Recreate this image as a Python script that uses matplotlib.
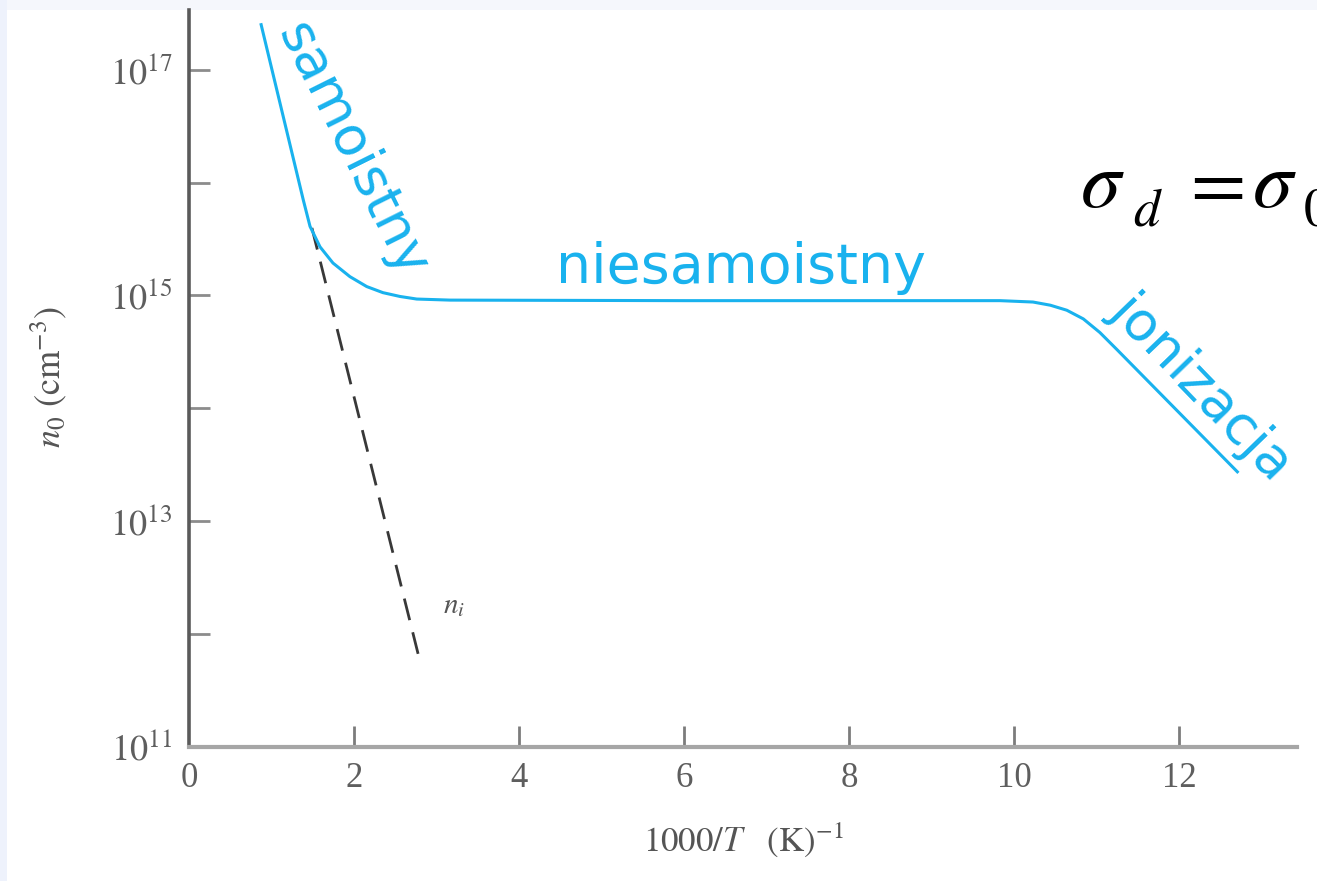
import math
import matplotlib
matplotlib.use("Agg")
import matplotlib.pyplot as plt
from matplotlib.patches import Rectangle
from matplotlib.transforms import Affine2D

plt.rcParams['mathtext.fontset'] = 'stix'
plt.rcParams['font.family'] = ['Liberation Serif', 'DejaVu Serif']

# ---- data ----
# electron concentration n0 (cm^-3) vs 1000/T (K^-1)
curve_x = [0.87, 1.386, 1.467, 1.588, 1.745, 1.95, 2.154, 2.35, 2.558, 2.76, 3.164,
           6.0, 9.83, 10.23, 10.44, 10.64, 10.84, 11.04, 11.25, 12.72]
curve_n = [2.6e17, 7.0e15, 4.1e15, 2.7e15, 1.94e15, 1.47e15, 1.2e15, 1.06e15, 9.8e14,
           9.3e14, 9.1e14, 9.0e14, 9.0e14, 8.75e14, 8.2e14, 7.4e14, 6.2e14, 4.7e14,
           3.3e14, 2.67e13]
# intrinsic concentration n_i (dashed)
ni_x = [1.49, 2.81]
ni_n = [3.97e15, 5.3e11]

yticks_major = [1e11, 1e13, 1e15, 1e17]
yticks_minor = [1e12, 1e14, 1e16]
xticks = [0, 2, 4, 6, 8, 10, 12]

region_labels = ["samoistny", "niesamoistny", "jonizacja"]

BLUE = '#19b2ee'

W, H = 1317, 881
fig = plt.figure(figsize=(W / 100, H / 100), dpi=100, facecolor='white')
px = Affine2D().scale(1 / W, -1 / H).translate(0, 1) + fig.transFigure

# light frame bands
fig.patches.append(Rectangle((0, 1 - 10 / H), 1, 10 / H, transform=fig.transFigure,
                             facecolor='#f5f7fc', edgecolor='none', zorder=-10))
fig.patches.append(Rectangle((0, 0), 7 / W, 1, transform=fig.transFigure,
                             facecolor='#eef2fc', edgecolor='none', zorder=-10))

left, right = 189 / W, 1297 / W
bottom, top = 1 - 746.5 / H, 1 - 10 / H
ax = fig.add_axes([left, bottom, right - left, top - bottom])
ax.set_facecolor('none')

ax.set_yscale('log')
ax.set_xlim(0, 13.43)
ax.set_ylim(1e11, 10 ** 17.532)

ax.plot(curve_x, curve_n, color=BLUE, lw=2.2, solid_capstyle='butt',
        solid_joinstyle='round', zorder=3)
ax.plot(ni_x, ni_n, color='#383838', lw=2.0, dashes=(8, 4.5), zorder=2)

for s in ['top', 'right']:
    ax.spines[s].set_visible(False)
ax.spines['left'].set_color('#5a5a5a')
ax.spines['left'].set_linewidth(2.6)
ax.spines['bottom'].set_color('#a6a6a6')
ax.spines['bottom'].set_linewidth(3.0)

ax.set_yticks(yticks_major)
ax.set_yticks(yticks_minor, minor=True)
ax.set_yticklabels([r'$10^{%d}$' % round(math.log10(v)) for v in yticks_major])
ax.set_yticklabels([], minor=True)
ax.set_xticks(xticks)
ax.set_xticklabels([str(v) for v in xticks])

ax.tick_params(axis='y', which='both', direction='in', length=15, width=2.0,
               color='#8c8c8c', pad=12, labelsize=26, labelcolor='#5e5e5e')
ax.tick_params(axis='x', which='both', direction='in', length=15, width=2.0,
               color='#7c7c7c', pad=11, labelsize=25, labelcolor='#5e5e5e')
ax.xaxis.get_major_ticks()[0].tick1line.set_visible(False)

ax.set_xlabel(r'$1000/T\ \ \ (\mathrm{K})^{-1}$', fontsize=25, color='#555555', labelpad=18)
ax.set_ylabel(r'$n_0\ (\mathrm{cm}^{-3})$', fontsize=26, color='#555555')
ax.yaxis.set_label_coords(-0.108, 0.502)

# region labels
ax.text(1.98, 1.95e16, region_labels[0], color=BLUE, fontsize=39, family='DejaVu Sans',
        rotation=-63.5, rotation_mode='anchor', ha='center', va='center')
ax.text(6.69, 1.29e15, region_labels[1], color=BLUE, fontsize=40, family='DejaVu Sans',
        ha='center', va='baseline')
ax.text(12.28, 1.55e14, region_labels[2], color=BLUE, fontsize=39, family='DejaVu Sans',
        rotation=-46, rotation_mode='anchor', ha='center', va='center')

ax.text(3.08, 1.53e12, r'$n_i$', color='#555555', fontsize=21)

# formula (cut by the right edge, as in the original)
fig.text(1080, 207, r'$\sigma$', transform=px, fontsize=58, va='baseline', ha='left')
fig.text(1133, 226, r'$d$', transform=px, fontsize=38, va='baseline', ha='left')
fig.text(1211, 207, r'$=$', transform=px, fontsize=58, va='baseline', ha='center')
fig.text(1252, 207, r'$\sigma$', transform=px, fontsize=58, va='baseline', ha='left')
fig.text(1303, 226, r'$0$', transform=px, fontsize=38, va='baseline', ha='left')

fig.savefig('out.png', dpi=100, facecolor=fig.get_facecolor())
